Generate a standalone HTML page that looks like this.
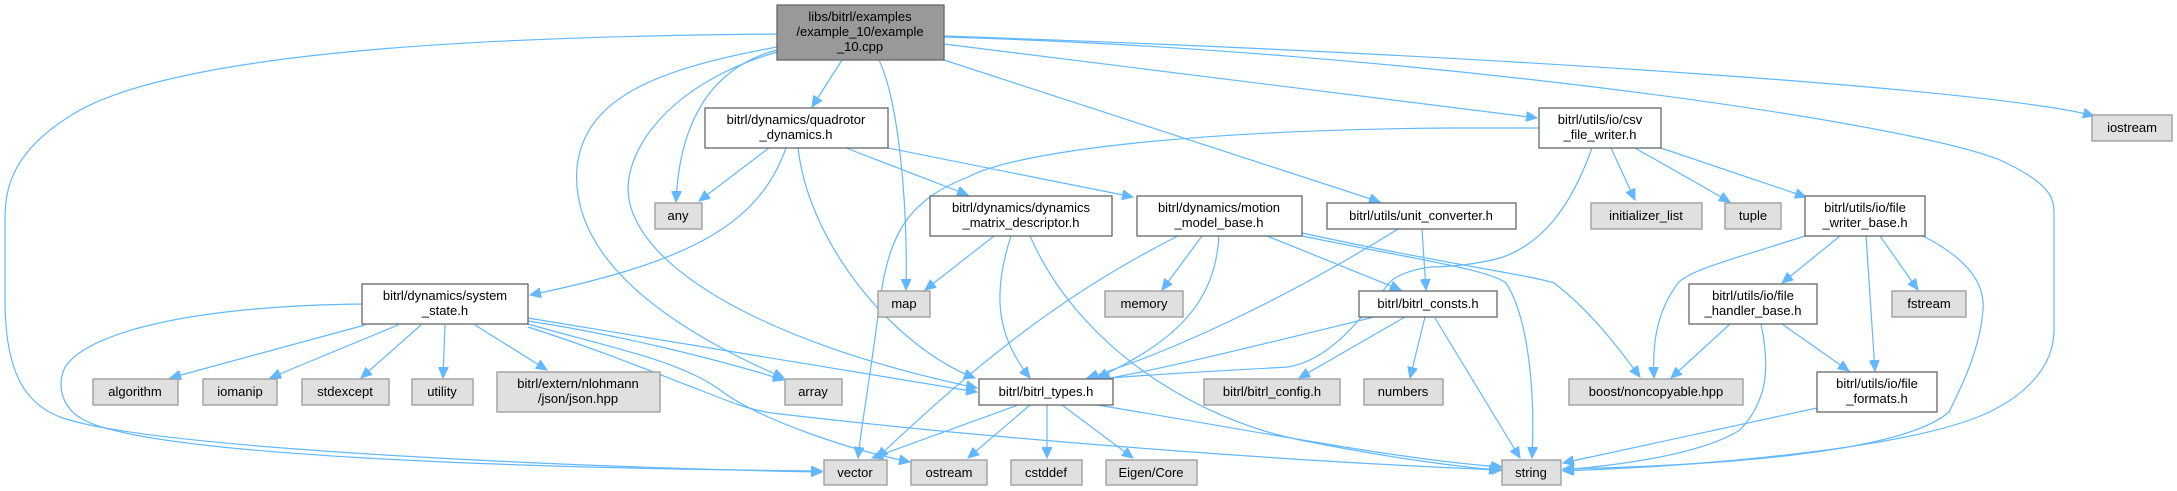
<!DOCTYPE html>
<html><head><meta charset="utf-8"><style>
html,body{margin:0;padding:0;background:#fff;}
svg{display:block;}
text{font-family:"Liberation Sans","DejaVu Sans",sans-serif;font-size:13px;fill:#000;text-anchor:middle;}
.e{fill:none;stroke:#63b8ff;stroke-width:1.2;marker-end:url(#a);}
.w{fill:#fff;stroke:#666;stroke-width:1.3;}
.g{fill:#e0e0e0;stroke:#999;stroke-width:1.3;}
.m{fill:#999;stroke:#666;stroke-width:1.3;}
</style></head><body>
<svg width="2177" height="491" viewBox="0 0 2177 491" xmlns="http://www.w3.org/2000/svg">
<defs><marker id="a" markerUnits="userSpaceOnUse" markerWidth="12" markerHeight="10" refX="11" refY="5" orient="auto"><path d="M0,0 L11,5 L0,10 z" fill="#63b8ff" stroke="#63b8ff"/></marker></defs>
<!-- main -->
<path class="e" d="M777,34 C550,36 200,45 80,110 C10,150 5,190 5,220 L5,300 C5,380 30,405 60,417 C150,450 600,468 822,472"/>
<path class="e" d="M944,37 C1400,50 1900,120 2000,160 C2054,185 2054,200 2054,215 L2054,330 C2054,370 2020,400 1978,417 C1880,455 1650,468 1563,471"/>
<path class="e" d="M944,36 C1500,55 2000,90 2094,116"/>
<path class="e" d="M944,44 C1300,90 1480,110 1537,118"/>
<path class="e" d="M944,60 L1380,202"/>
<path class="e" d="M879,60 C898,100 908,200 906,290"/>
<path class="e" d="M842,60 L812,107"/>
<path class="e" d="M777,50 C720,65 680,110 676,202"/>
<path class="e" d="M777,47 C650,70 585,100 577,167 C570,250 650,320 784,378"/>
<path class="e" d="M777,52 C680,80 628,140 628,190 C630,260 750,340 977,388"/>
<!-- quadrotor -->
<path class="e" d="M769,148 L699,201"/>
<path class="e" d="M786,148 C760,220 700,260 530,295"/>
<path class="e" d="M798,148 C810,250 900,350 975,378"/>
<path class="e" d="M846,148 L968,195"/>
<path class="e" d="M888,148 L1133,197"/>
<!-- dyn matrix -->
<path class="e" d="M994,236 L925,290"/>
<path class="e" d="M1011,236 C990,300 1000,340 1030,378"/>
<path class="e" d="M1030,236 C1080,350 1200,420 1300,440 C1400,460 1470,468 1500,470"/>
<!-- motion -->
<path class="e" d="M1178,236 C1050,300 960,380 877,458"/>
<path class="e" d="M1202,236 L1162,290"/>
<path class="e" d="M1219,236 C1215,300 1180,340 1097,378"/>
<path class="e" d="M1267,236 L1401,290"/>
<path class="e" d="M1302,233 C1450,265 1530,275 1554,283 C1590,310 1620,350 1640,377"/>
<path class="e" d="M1302,236 C1420,260 1490,270 1506,283 C1530,320 1535,400 1532,458"/>
<!-- unit converter -->
<path class="e" d="M1398,229 C1300,290 1180,350 1087,378"/>
<path class="e" d="M1422,229 L1426,290"/>
<!-- csv -->
<path class="e" d="M1539,128 L1450,128 C1200,130 1020,150 968,177 C910,200 890,230 880,300 C870,380 862,420 858,458"/>
<path class="e" d="M1592,148 C1570,210 1540,245 1500,258 C1470,266 1440,267 1430,267 C1410,270 1395,276 1389,283 C1360,320 1330,360 1288,367 C1200,372 1140,375 1099,379"/>
<path class="e" d="M1611,148 L1635,200"/>
<path class="e" d="M1635,148 L1730,202"/>
<path class="e" d="M1661,148 L1806,197"/>
<!-- file writer base -->
<path class="e" d="M1805,236 C1730,260 1690,270 1678,283 C1658,310 1652,340 1654,378"/>
<path class="e" d="M1840,236 L1782,283"/>
<path class="e" d="M1866,236 L1875,371"/>
<path class="e" d="M1880,236 L1918,290"/>
<path class="e" d="M1923,236 C1970,260 1985,285 1983,310 C1980,350 1960,390 1949,412 C1900,455 1700,466 1563,469"/>
<!-- handler -->
<path class="e" d="M1730,324 L1671,378"/>
<path class="e" d="M1761,324 C1770,367 1768,400 1740,430 C1700,455 1620,465 1563,470"/>
<path class="e" d="M1782,324 L1849,371"/>
<!-- formats -->
<path class="e" d="M1817,408 L1563,463"/>
<!-- consts -->
<path class="e" d="M1374,317 C1280,340 1160,370 1099,380"/>
<path class="e" d="M1405,317 L1299,378"/>
<path class="e" d="M1425,317 L1410,378"/>
<path class="e" d="M1435,318 L1520,458"/>
<!-- types -->
<path class="e" d="M1018,405 L872,458"/>
<path class="e" d="M1030,405 L968,458"/>
<path class="e" d="M1047,405 L1047,458"/>
<path class="e" d="M1062,405 L1133,458"/>
<path class="e" d="M1097,405 C1250,430 1400,460 1502,467"/>
<!-- system state -->
<path class="e" d="M362,304 C200,306 90,330 65,367 C55,390 65,410 84,420 C150,455 500,468 822,471"/>
<path class="e" d="M365,325 L170,378"/>
<path class="e" d="M398,325 L270,378"/>
<path class="e" d="M421,325 L361,378"/>
<path class="e" d="M445,325 L443,378"/>
<path class="e" d="M475,325 L547,370"/>
<path class="e" d="M528,318 L977,392"/>
<path class="e" d="M528,321 C620,335 720,360 784,380"/>
<path class="e" d="M528,324 C600,345 680,360 720,390 C760,420 850,450 910,462"/>
<path class="e" d="M528,327 C600,350 660,375 700,390 C730,402 750,410 772,413 C1000,440 1300,462 1502,470"/>
<!-- nodes -->
<rect class="m" x="777" y="5" width="167" height="55"/>
<text x="860" y="21">libs/bitrl/examples</text><text x="860" y="36">/example_10/example</text><text x="860" y="51">_10.cpp</text>
<rect class="w" x="705" y="108" width="183" height="40"/><text x="796" y="124">bitrl/dynamics/quadrotor</text><text x="796" y="139">_dynamics.h</text>
<rect class="w" x="930" y="196" width="182" height="40"/><text x="1021" y="212">bitrl/dynamics/dynamics</text><text x="1021" y="227">_matrix_descriptor.h</text>
<rect class="w" x="1137" y="196" width="165" height="40"/><text x="1219" y="212">bitrl/dynamics/motion</text><text x="1219" y="227">_model_base.h</text>
<rect class="w" x="1327" y="203" width="189" height="26"/><text x="1421" y="220">bitrl/utils/unit_converter.h</text>
<rect class="w" x="1359" y="291" width="138" height="26"/><text x="1428" y="308">bitrl/bitrl_consts.h</text>
<rect class="w" x="362" y="284" width="166" height="40"/><text x="445" y="300">bitrl/dynamics/system</text><text x="445" y="315">_state.h</text>
<rect class="w" x="979" y="379" width="134" height="26"/><text x="1046" y="396">bitrl/bitrl_types.h</text>
<rect class="w" x="1539" y="108" width="122" height="40"/><text x="1600" y="124">bitrl/utils/io/csv</text><text x="1600" y="139">_file_writer.h</text>
<rect class="w" x="1805" y="196" width="120" height="40"/><text x="1865" y="212">bitrl/utils/io/file</text><text x="1865" y="227">_writer_base.h</text>
<rect class="w" x="1689" y="284" width="128" height="40"/><text x="1753" y="300">bitrl/utils/io/file</text><text x="1753" y="315">_handler_base.h</text>
<rect class="w" x="1817" y="372" width="120" height="40"/><text x="1877" y="388">bitrl/utils/io/file</text><text x="1877" y="403">_formats.h</text>
<rect class="g" x="655" y="203" width="47" height="26"/><text x="678" y="220">any</text>
<rect class="g" x="878" y="291" width="52" height="26"/><text x="904" y="308">map</text>
<rect class="g" x="1105" y="291" width="78" height="26"/><text x="1144" y="308">memory</text>
<rect class="g" x="93" y="379" width="85" height="26"/><text x="135" y="396">algorithm</text>
<rect class="g" x="203" y="379" width="74" height="26"/><text x="240" y="396">iomanip</text>
<rect class="g" x="302" y="379" width="87" height="26"/><text x="345" y="396">stdexcept</text>
<rect class="g" x="412" y="379" width="61" height="26"/><text x="442" y="396">utility</text>
<rect class="g" x="497" y="372" width="163" height="40"/><text x="578" y="388">bitrl/extern/nlohmann</text><text x="578" y="403">/json/json.hpp</text>
<rect class="g" x="785" y="379" width="57" height="26"/><text x="813" y="396">array</text>
<rect class="g" x="1204" y="379" width="136" height="26"/><text x="1272" y="396">bitrl/bitrl_config.h</text>
<rect class="g" x="1364" y="379" width="79" height="26"/><text x="1403" y="396">numbers</text>
<rect class="g" x="824" y="460" width="63" height="25"/><text x="855" y="477">vector</text>
<rect class="g" x="911" y="460" width="76" height="25"/><text x="949" y="477">ostream</text>
<rect class="g" x="1011" y="460" width="71" height="25"/><text x="1046" y="477">cstddef</text>
<rect class="g" x="1106" y="460" width="91" height="25"/><text x="1151" y="477">Eigen/Core</text>
<rect class="g" x="1502" y="460" width="59" height="25"/><text x="1531" y="477">string</text>
<rect class="g" x="2092" y="115" width="80" height="26"/><text x="2132" y="132">iostream</text>
<rect class="g" x="1591" y="203" width="111" height="26"/><text x="1646" y="220">initializer_list</text>
<rect class="g" x="1725" y="203" width="56" height="26"/><text x="1753" y="220">tuple</text>
<rect class="g" x="1892" y="291" width="74" height="26"/><text x="1929" y="308">fstream</text>
<rect class="g" x="1569" y="379" width="174" height="26"/><text x="1656" y="396">boost/noncopyable.hpp</text>
</svg>
</body></html>
